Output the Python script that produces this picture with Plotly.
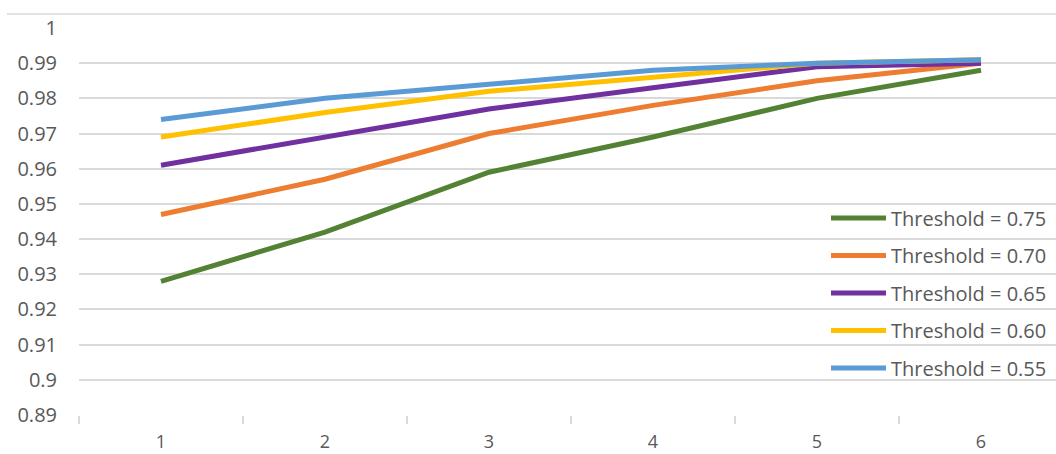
import plotly.graph_objects as go

# Category positions along the x axis
categories = ["1", "2", "3", "4", "5", "6"]

# Series values, one list per threshold
thr_075 = [0.928, 0.942, 0.959, 0.969, 0.980, 0.988]
thr_070 = [0.947, 0.957, 0.970, 0.978, 0.985, 0.990]
thr_065 = [0.961, 0.969, 0.977, 0.983, 0.989, 0.990]
thr_060 = [0.969, 0.976, 0.982, 0.986, 0.990, 0.991]
thr_055 = [0.974, 0.980, 0.984, 0.988, 0.990, 0.991]

series_names = ["Threshold = 0.75", "Threshold = 0.70", "Threshold = 0.65",
                "Threshold = 0.60", "Threshold = 0.55"]
series_values = [thr_075, thr_070, thr_065, thr_060, thr_055]
series_colors = ["#548235", "#ED7D31", "#7030A0", "#FFC000", "#5B9BD5"]

y_ticks = [0.89, 0.90, 0.91, 0.92, 0.93, 0.94, 0.95, 0.96, 0.97, 0.98, 0.99, 1.0]
y_tick_text = ["0.89", "0.9", "0.91", "0.92", "0.93", "0.94", "0.95", "0.96",
               "0.97", "0.98", "0.99", "1"]

TEXT = "#595959"
GRID = "#D9D9D9"
FONT = "'Open Sans', sans-serif"

fig = go.Figure()
for name, vals, col in zip(series_names, series_values, series_colors):
    fig.add_trace(go.Scatter(
        x=categories, y=vals, mode="lines", name=name,
        legendgroup=name,
        line=dict(color=col, width=5),
    ))

W, H = 1056, 454
ml, mr, mt, mb = 79, 0, 28, 39
plot_w = W - ml - mr
plot_h = H - mt - mb

fig.update_layout(
    width=W, height=H,
    margin=dict(l=ml, r=mr, t=mt, b=mb, pad=0, autoexpand=False),
    paper_bgcolor="white", plot_bgcolor="white",
    font=dict(family=FONT, color=TEXT, size=20),
    showlegend=True,
    legend=dict(
        x=(826 - ml) / plot_w, xanchor="left",
        y=(H - mb - 293) / plot_h, yanchor="middle",
        bgcolor="rgba(255,255,255,0)",
        font=dict(family=FONT, size=20, color=TEXT),
        tracegroupgap=8.5,
        itemwidth=55,
        traceorder="grouped",
    ),
    xaxis=dict(
        type="category",
        range=[-0.5, -0.5 + plot_w / 164.0],
        tickson="boundaries",
        ticks="outside", ticklen=8, tickcolor=GRID, tickwidth=1.5,
        showgrid=False, zeroline=False,
        showline=False,
        automargin=False,
        ticklabelstandoff=14,
        tickfont=dict(family=FONT, size=18, color=TEXT),
        fixedrange=True,
    ),
    yaxis=dict(
        range=[0.89, 1.0],
        tickmode="array", tickvals=y_ticks, ticktext=y_tick_text,
        showgrid=True, gridcolor=GRID, gridwidth=1.5,
        zeroline=False, showline=False, ticks="",
        automargin=False,
        ticklabelstandoff=21,
        tickfont=dict(family=FONT, size=20, color=TEXT),
        fixedrange=True,
    ),
)

# Chart-area border across the top
fig.add_shape(type="line", xref="paper", yref="paper",
              x0=(7 - ml) / plot_w, x1=1.02,
              y0=1 + 14 / plot_h, y1=1 + 14 / plot_h,
              line=dict(color=GRID, width=1.5))

fig.write_html("out.html")
